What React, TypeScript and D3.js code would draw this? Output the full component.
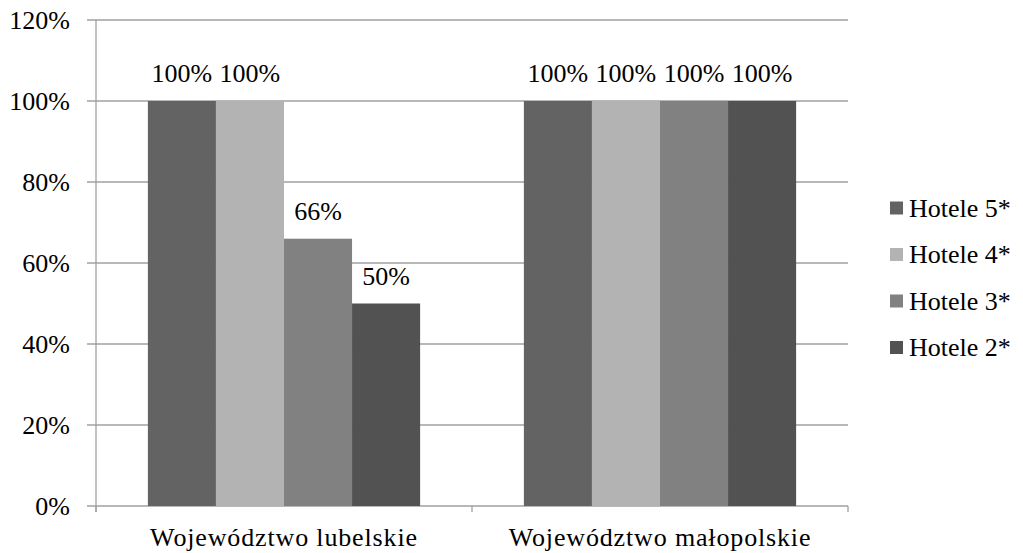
import React from "react";
import * as d3 from "d3";

const categories = ["Województwo lubelskie", "Województwo małopolskie"];
const seriesNames = ["Hotele 5*", "Hotele 4*", "Hotele 3*", "Hotele 2*"];
const seriesColors = ["#636363", "#b3b3b3", "#818181", "#525252"];
const values: number[][] = [
  [100, 100, 66, 50],
  [100, 100, 100, 100],
];
const yTicks = [0, 20, 40, 60, 80, 100, 120];

const W = 1023;
const H = 553;
const left = 96;
const right = 848;
const top = 20;
const bottom = 506;
const font = "Liberation Serif";
const fs = 26;
const gridColor = "#a0a0a0";
const txt = { fontFamily: font, fontSize: fs, fill: "#000" } as const;

export default function App() {
  const x0 = d3.scaleBand<string>().domain(categories).range([left, right]).paddingInner(0.276).paddingOuter(0.138);
  const x1 = d3.scaleBand<string>().domain(seriesNames).range([0, x0.bandwidth()]);
  const y = d3.scaleLinear().domain([0, 120]).range([bottom, top]);
  const step = (right - left) / categories.length;
  const boundaries = d3.range(categories.length + 1).map((i) => left + i * step);

  return (
    <svg width={W} height={H} style={{ position: "absolute", left: 0, top: 0, background: "#fff" }}>
      {yTicks.map((t) => (
        <g key={t}>
          <line x1={left - 9} x2={right} y1={y(t)} y2={y(t)} stroke={gridColor} strokeWidth={1.3} />
          <text x={70} y={y(t)} dy="0.33em" textAnchor="end" style={txt}>{t}%</text>
        </g>
      ))}
      <line x1={left} x2={left} y1={top} y2={bottom + 6} stroke={gridColor} strokeWidth={1.3} />
      {boundaries.map((b, i) => (
        <line key={i} x1={b} x2={b} y1={bottom} y2={bottom + 6} stroke={gridColor} strokeWidth={1.3} />
      ))}
      {categories.map((c, ci) => (
        <g key={c} transform={`translate(${x0(c)},0)`}>
          {seriesNames.map((s, si) => {
            const v = values[ci][si];
            const bx = x1(s)!;
            return (
              <g key={s}>
                <rect x={bx} y={y(v)} width={x1.bandwidth()} height={bottom - y(v)} fill={seriesColors[si]} />
                <text x={bx + x1.bandwidth() / 2} y={y(v) - 19} textAnchor="middle" style={txt}>{v}%</text>
              </g>
            );
          })}
        </g>
      ))}
      {categories.map((c) => (
        <text key={c} x={x0(c)! + x0.bandwidth() / 2} y={546} textAnchor="middle" style={{ ...txt, letterSpacing: 0.85 }}>{c}</text>
      ))}
      {seriesNames.map((s, i) => {
        const cy = 208 + i * 46.5;
        return (
          <g key={s}>
            <rect x={890} y={cy - 6.5} width={13} height={13} fill={seriesColors[i]} />
            <text x={909} y={cy} dy="0.33em" style={txt}>{s}</text>
          </g>
        );
      })}
    </svg>
  );
}
